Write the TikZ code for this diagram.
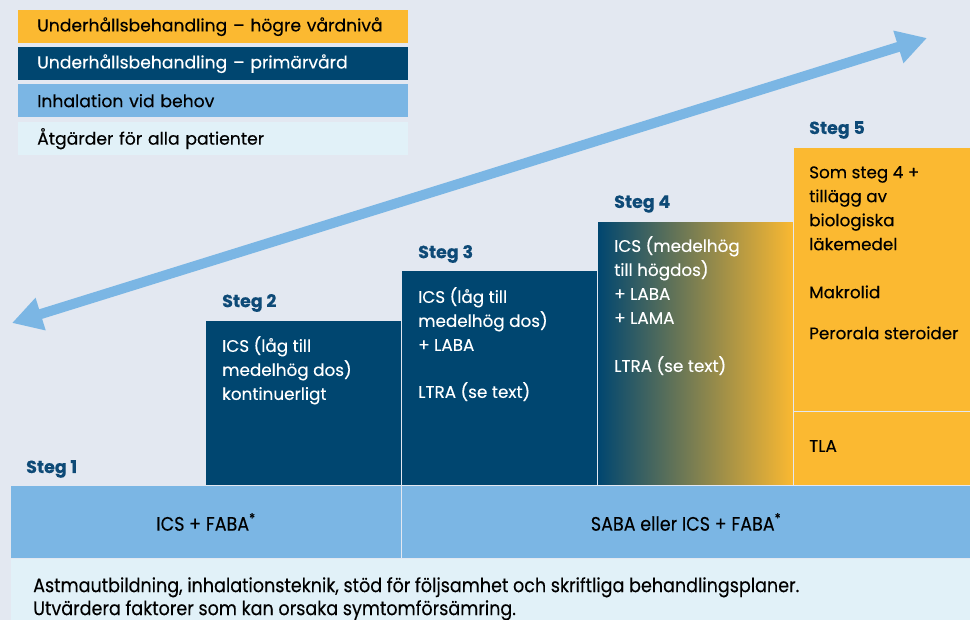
\documentclass[tikz,border=0pt]{standalone}
\usepackage{fontspec}
\setmainfont{Poppins}[FakeBold=0.25]
\newfontfamily\smalfont{Poppins}[FakeStretch=0.9,FakeBold=0.2]
\usetikzlibrary{positioning}
\usetikzlibrary{arrows.meta}
\definecolor{bakgrund}{RGB}{227,232,241}
\definecolor{orange}{RGB}{251,185,49}
\definecolor{morkbla}{RGB}{0,70,112}
\definecolor{ljusbla}{RGB}{123,182,228}
\definecolor{isbla}{RGB}{225,241,248}
\definecolor{stegfarg}{RGB}{14,74,119}

\begin{document}
\begin{tikzpicture}[x=1pt, y=-1pt, >=Triangle,
legend/.style={anchor=north west, minimum height=33, text width=352, inner xsep=19, align=left, font=\fontsize{17.2}{18}\selectfont},
box/.style={anchor=north west, draw=bakgrund, line width=1pt},
txt/.style={anchor=north west, inner sep=0pt, align=left, font=\fontsize{16.8}{24}\selectfont},
steg/.style={anchor=west, inner sep=0pt, text=stegfarg, font=\fontsize{17.5}{18}\selectfont\bfseries}]
\useasboundingbox (0,0) rectangle (970,620);
\fill[bakgrund] (0,0) rectangle (970,620);

% legend
\node [legend, fill=orange] (leg1) at (18,10) {Underhållsbehandling – högre vårdnivå};
\node [legend, fill=morkbla, text=white] (leg2) at (18,47) {Underhållsbehandling – primärvård};
\node [legend, fill=ljusbla] (leg3) at (18,84) {Inhalation vid behov};
\node [legend, fill=isbla] (leg4) at (18,122) {Åtgärder för alla patienter};

% pil
\coordinate (pilv) at (12,323);
\coordinate (pilh) at (927,38);
\draw [ljusbla, line width=10pt, {Triangle[length=30pt,width=32pt]}-{Triangle[length=30pt,width=32pt]}] (pilv) -- (pilh);

% atgarder, botten
\node [box, fill=isbla, minimum width=960, minimum height=62] (alla) at (10,558) {};
\node [txt, font=\smalfont\fontsize{19.5}{23}\selectfont] (allatxt) at (33,577) {Astmautbildning, inhalationsteknik, stöd för följsamhet och skriftliga behandlingsplaner.\\Utvärdera faktorer som kan orsaka symtomförsämring.};

% inhalation vid behov
\node [box, fill=ljusbla, minimum width=391, minimum height=73, font=\smalfont\fontsize{19.5}{20}\selectfont] (vb1) at (10,485) {ICS + FABA\textsuperscript{*}};
\node [box, fill=ljusbla, minimum width=569, minimum height=73, font=\smalfont\fontsize{19.5}{20}\selectfont] (vb2) at (401,485) {SABA eller ICS + FABA\textsuperscript{*}};

% steg 1
\node [steg] (steg1) at (26,469) {Steg 1};

% steg 2
\node [box, fill=morkbla, minimum width=196, minimum height=165] (s2) at (205,320) {};
\node [steg] (steg2) at (222,303) {Steg 2};
\node [txt, text=white] (s2txt) at (222,336) {ICS (låg till\\medelhög dos)\\kontinuerligt};

% steg 3
\node [box, fill=morkbla, minimum width=196, minimum height=215] (s3) at (401,270) {};
\node [steg] (steg3) at (418,254) {Steg 3};
\node [txt, text=white] (s3txt) at (418,287) {ICS (låg till\\medelhög dos)\\+ LABA\\[23pt]LTRA (se text)};

% steg 4
\node [box, left color=morkbla, right color=orange, minimum width=196, minimum height=264] (s4) at (597,221) {};
\node [steg] (steg4) at (614,204) {Steg 4};
\node [txt, text=white] (s4txt) at (614,236) {ICS (medelhög\\till högdos)\\+ LABA\\+ LAMA\\[24pt]LTRA (se text)};

% steg 5
\node [box, fill=orange, minimum width=177, minimum height=264] (s5) at (793,147) {};
\node [box, fill=orange, minimum width=177, minimum height=74] (s5b) at (793,411) {};
\node [steg] (steg5) at (809,130) {Steg 5};
\node [txt] (s5txt) at (809,166) {Som steg 4 +\\tillägg av\\biologiska\\läkemedel\\[24pt]Makrolid\\[17pt]Perorala steroider};
\node [txt, anchor=west] (tla) at (809,446) {TLA};
\end{tikzpicture}
\end{document}
